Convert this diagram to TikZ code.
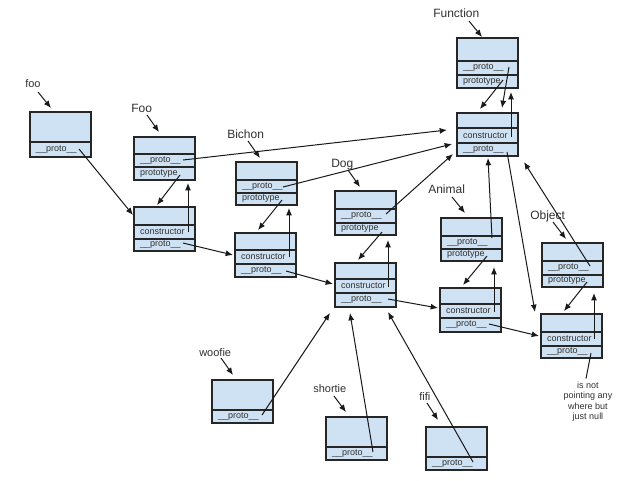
\documentclass[tikz,border=0pt]{standalone}
\usepackage{fontspec}
\setmainfont{Liberation Sans}
\usetikzlibrary{arrows.meta,calc}
\definecolor{boxfill}{HTML}{CFE2F3}
\definecolor{boxline}{HTML}{262626}
\definecolor{txt}{HTML}{303030}
\newcommand\mkfnbox[8]{%
  \node[rowbox,minimum height=#4*0.75pt] (#1t) at (#2,#3) {};
  \node[rowbox,minimum height=#5*0.75pt] (#1a) at (#1t.south west) {#7};
  \node[rowbox,minimum height=#6*0.75pt] (#1b) at (#1a.south west) {#8};
}
\newcommand\mkinstbox[5]{%
  \node[rowbox,minimum height=#4*0.75pt] (#1t) at (#2,#3) {};
  \node[rowbox,minimum height=#5*0.75pt] (#1a) at (#1t.south west) {\_\_proto\_\_};
}
\begin{document}
\begin{tikzpicture}[x=0.75pt,y=-0.75pt,
  rowbox/.style={draw=boxline,fill=boxfill,line width=0.9pt,outer sep=0pt,
    anchor=north west,inner xsep=4.5pt,inner ysep=0pt,text width=36.75pt,
    minimum width=45.75pt,align=left,text=txt,font=\fontsize{6.75}{8}\selectfont},
  lab/.style={anchor=base west,inner sep=0pt,text=txt,font=\fontsize{9}{10}\selectfont},
  slab/.style={anchor=base west,inner sep=0pt,text=txt,font=\fontsize{8.25}{10}\selectfont},
  arr/.style={-{Latex[length=5.5pt,width=4.5pt]},line width=0.75pt,draw=black!90},
  plain/.style={line width=0.75pt,draw=black!90}]
\useasboundingbox (0,0) rectangle (640,480);

% boxes
\mkinstbox{fooi}{30}{112}{30}{15}
\mkfnbox{Foo}{134}{137}{17}{13}{13}{\_\_proto\_\_}{prototype}
\mkfnbox{FooC}{134}{207}{18}{14}{12}{constructor}{\_\_proto\_\_}
\mkfnbox{Bic}{236}{162}{18}{13}{12}{\_\_proto\_\_}{prototype}
\mkfnbox{BicC}{235}{233}{17}{14}{13}{constructor}{\_\_proto\_\_}
\mkfnbox{Dog}{335}{191}{18}{14}{12}{\_\_proto\_\_}{prototype}
\mkfnbox{DogC}{335}{263}{16}{14}{14}{constructor}{\_\_proto\_\_}
\mkfnbox{Fun}{457}{38}{23}{14}{13}{\_\_proto\_\_}{prototype}
\mkfnbox{FunC}{457}{113}{15}{15}{13}{constructor}{\_\_proto\_\_}
\mkfnbox{Ani}{441}{218}{18}{13}{12}{\_\_proto\_\_}{prototype}
\mkfnbox{AniC}{440}{288}{16}{14}{14}{constructor}{\_\_proto\_\_}
\mkfnbox{Obj}{542}{243}{18}{14}{12}{\_\_proto\_\_}{prototype}
\mkfnbox{ObjC}{541}{314}{18}{14}{12}{constructor}{\_\_proto\_\_}
\mkinstbox{woo}{212}{380}{30}{13}
\mkinstbox{sho}{326}{417}{30}{13}
\mkinstbox{fif}{426}{427}{30}{13}

% labels
\node[slab] (Lfoo) at (25,87) {foo};
\node[lab] (LFoo) at (131,112) {Foo};
\node[lab] (LFun) at (433,17.5) {Function};
\node[lab] (LBic) at (227,138) {Bichon};
\node[lab] (LDog) at (331,167) {Dog};
\node[lab] (LAni) at (428,193) {Animal};
\node[lab] (LObj) at (530,219) {Object};
\node[slab] (Lwoo) at (199,356) {woofie};
\node[slab] (Lsho) at (313,392) {shortie};
\node[slab] (Lfif) at (419,400) {fifi};
\node[anchor=north,inner sep=0pt,align=center,text=txt,
  font=\fontsize{6.75}{7.8}\selectfont] (nulltxt) at (588,381.5)
  {is not\\pointing any\\where but\\just null};

% label arrows
\draw[arr] ($(Lfoo.base west)+(13,5)$) -- ($(fooit.north west)+(21,-4)$);
\draw[arr] ($(LFoo.base west)+(16,3)$) -- ($(Foot.north west)+(25,-5)$);
\draw[arr] ($(LFun.base west)+(36,3.5)$) -- ($(Funt.north west)+(25,-1)$);
\draw[arr] ($(LBic.base west)+(21,3)$) -- ($(Bict.north west)+(24,-4)$);
\draw[arr] ($(LDog.base west)+(17,3)$) -- ($(Dogt.north west)+(25,-4)$);
\draw[arr] ($(LAni.base west)+(24,4)$) -- ($(Anit.north west)+(24,-5)$);
\draw[arr] ($(LObj.base west)+(23,3)$) -- ($(Objt.north west)+(24,-4)$);
\draw[arr] ($(Lwoo.base west)+(22,2)$) -- ($(woot.north west)+(21,-5)$);
\draw[arr] ($(Lsho.base west)+(21,4)$) -- ($(shot.north west)+(20,-5)$);
\draw[arr] ($(Lfif.base west)+(8,3)$) -- ($(fift.north west)+(12,-7)$);

% prototype / constructor pairs
\draw[arr] ($(Foot.north west)+(46,38)$) -- ($(FooCt.north west)+(23,-2)$);
\draw[arr] ($(FooCt.north west)+(54,25)$) -- ($(Foot.north west)+(54,46)$);
\draw[arr] ($(Bict.north west)+(46,38)$) -- ($(BicCt.north west)+(23,-3)$);
\draw[arr] ($(BicCt.north west)+(54,24)$) -- ($(Bict.north west)+(53,46)$);
\draw[arr] ($(Dogt.north west)+(47,41)$) -- ($(DogCt.north west)+(23,-3)$);
\draw[arr] ($(DogCt.north west)+(53,24)$) -- ($(Dogt.north west)+(53,49)$);
\draw[arr] ($(Funt.north west)+(52,29)$) -- ($(FunCt.north west)+(45,-5)$);
\draw[arr] ($(Funt.north west)+(46,42)$) -- ($(FunCt.north west)+(23,-4)$);
\draw[arr] ($(FunCt.north west)+(54,24)$) -- ($(Funt.north west)+(54,54)$);
\draw[arr] ($(Anit.north west)+(46,38)$) -- ($(AniCt.north west)+(23,-3)$);
\draw[arr] ($(AniCt.north west)+(54,24)$) -- ($(Anit.north west)+(53,49)$);
\draw[arr] ($(Objt.north west)+(45,39)$) -- ($(ObjCt.north west)+(23,-3)$);
\draw[arr] ($(ObjCt.north west)+(53,25)$) -- ($(Objt.north west)+(52,50)$);

% __proto__ links
\draw[arr] ($(fooit.north west)+(49,37)$) -- ($(FooCt.north west)+(-1,8)$);
\draw[arr] ($(Foot.north west)+(49,23)$) -- ($(FunCt.north west)+(-10,17)$);
\draw[arr] ($(Bict.north west)+(47,25)$) -- ($(FunCt.north west)+(-5,31)$);
\draw[arr] ($(Dogt.north west)+(51,23)$) -- ($(FunCt.north west)+(-4,41)$);
\draw[arr] ($(FooCt.north west)+(49,36)$) -- ($(BicCt.north west)+(-2,22)$);
\draw[arr] ($(BicCt.north west)+(51,38)$) -- ($(DogCt.north west)+(-2,21)$);
\draw[arr] ($(DogCt.north west)+(53,36)$) -- ($(AniCt.north west)+(-2,20)$);
\draw[arr] ($(AniCt.north west)+(49,36)$) -- ($(ObjCt.north west)+(-2,22)$);
\draw[arr] ($(Anit.north west)+(51,20)$) -- ($(FunCt.north west)+(31,45)$);
\draw[arr] ($(FunCt.north west)+(50,39)$) -- ($(ObjCt.north west)+(-6,-2)$);
\draw[arr] ($(Objt.north west)+(48,23)$) -- ($(FunCt.north west)+(67,49)$);
\draw[plain] ($(ObjCt.north west)+(50,39)$) -- ($(nulltxt.north)+(-2,-3)$);
\draw[arr] ($(woot.north west)+(50,35)$) -- ($(DogCt.north west)+(-5,50)$);
\draw[arr] ($(shot.north west)+(47,35)$) -- ($(DogCt.north west)+(15,50)$);
\draw[arr] ($(fift.north west)+(47,35)$) -- ($(DogCt.north west)+(53,49)$);
\end{tikzpicture}
\end{document}
